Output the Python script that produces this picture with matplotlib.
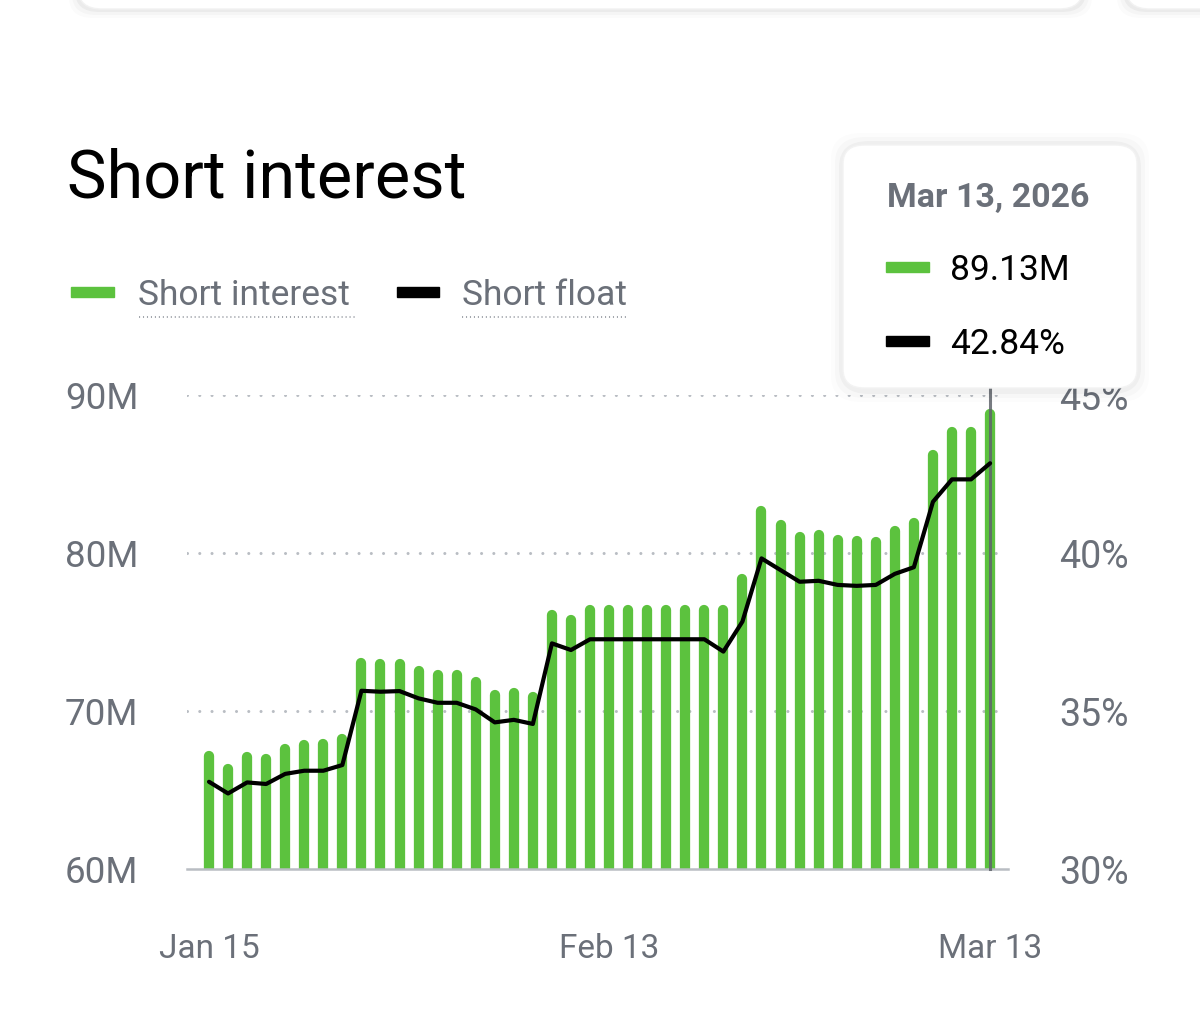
import numpy as np
import matplotlib
matplotlib.use('Agg')
import matplotlib.pyplot as plt
from matplotlib.patches import FancyBboxPatch, Rectangle
from matplotlib.lines import Line2D

plt.rcParams['font.family'] = ['Roboto', 'DejaVu Sans']

# Data (weekdays Jan 15 - Mar 13, 2026)
short_interest = [67.47, 66.65, 67.38, 67.26, 67.91, 68.16, 68.23, 68.52,
                  73.33, 73.27, 73.31, 72.85, 72.57, 72.57, 72.13, 71.33,
                  71.44, 71.22, 76.39, 76.08, 76.69, 76.69, 76.69, 76.69,
                  76.69, 76.69, 76.69, 76.69, 78.65, 82.97, 82.09, 81.33,
                  81.45, 81.14, 81.08, 81.03, 81.73, 82.20, 86.50, 87.95,
                  87.95, 89.13]  # millions
short_float = [32.76, 32.39, 32.74, 32.69, 33.01, 33.11, 33.11, 33.29,
               35.64, 35.61, 35.63, 35.40, 35.26, 35.26, 35.05, 34.64,
               34.72, 34.59, 37.14, 36.93, 37.27, 37.27, 37.27, 37.27,
               37.27, 37.27, 37.27, 36.88, 37.83, 39.83, 39.46, 39.09,
               39.12, 38.99, 38.96, 38.99, 39.34, 39.55, 41.62, 42.33,
               42.33, 42.84]  # percent
xtick_pos = [0, 21, 41]
xtick_labels = ['Jan 15', 'Feb 13', 'Mar 13']
left_ticks = [60, 70, 80, 90]
left_labels = ['60M', '70M', '80M', '90M']
right_ticks = [30, 35, 40, 45]
right_labels = ['30%', '35%', '40%', '45%']
tip_date = 'Mar 13, 2026'
tip_si = '89.13M'
tip_sf = '42.84%'

GREEN = '#5CC23E'
GRAY = '#6B7079'
GRID = '#B9BDC3'

W, H = 1200, 1036
fig = plt.figure(figsize=(W / 100, H / 100), dpi=100)
fig.patch.set_facecolor('white')

def fx(px):
    return px / W

def fy(py):
    return 1 - py / H

ax = fig.add_axes([fx(187), fy(869), fx(1008) - fx(187), fy(395) - fy(869)])
ax.set_xlim(-1.155, 41.94)
ax.set_ylim(60, 90)
for s in ['top', 'right', 'left']:
    ax.spines[s].set_visible(False)
ax.spines['bottom'].set_color(GRID)
ax.spines['bottom'].set_linewidth(1.8)

# dotted gridlines
for v in [70, 80, 90]:
    ax.axhline(v, xmin=0, xmax=0.985, color=GRID, lw=2.2, ls=(0, (0.01, 4)),
               dash_capstyle='round', zorder=1)

# rounded bars
x = np.arange(len(short_interest))
cap = 5 / 15.8
ax.vlines(x, 59, np.array(short_interest) - cap, color=GREEN, lw=7.4,
          capstyle='round', zorder=2)

# hover marker
ax.axvline(41, ymin=0, ymax=1.012, color='#5F646B', lw=2.2, alpha=0.85,
           clip_on=False, zorder=4)

ax.set_yticks(left_ticks)
ax.set_yticklabels(left_labels, fontsize=26.5, color=GRAY, ha='left')
ax.tick_params(axis='y', length=0, pad=88)
ax.set_xticks(xtick_pos)
ax.set_xticklabels(xtick_labels, fontsize=24, color=GRAY)
ax.tick_params(axis='x', length=0, pad=46)

ax2 = ax.twinx()
ax2.set_ylim(30, 45)
for s in ax2.spines.values():
    s.set_visible(False)
ax2.plot(x, short_float, color='black', lw=3, solid_joinstyle='round',
         solid_capstyle='round', zorder=5)
ax2.set_yticks(right_ticks)
ax2.set_yticklabels(right_labels, fontsize=27, color=GRAY)
ax2.tick_params(axis='y', length=0, pad=37)

# title
fig.text(fx(67), fy(197), 'Short interest', fontsize=48, color='black',
         va='baseline', ha='left')

# legend
fig.patches.append(Rectangle((fx(71), fy(297)), fx(43), fy(287) - fy(297),
                             transform=fig.transFigure, color=GREEN))
fig.text(fx(138), fy(305), 'Short interest', fontsize=25.5, color=GRAY,
         va='baseline', ha='left')
fig.lines.append(Line2D([fx(139), fx(356)], [fy(317), fy(317)],
                        transform=fig.transFigure, color='#9A9EA5', lw=1.3,
                        ls=(0, (0.6, 1.6))))
fig.patches.append(Rectangle((fx(397), fy(297)), fx(42), fy(287) - fy(297),
                             transform=fig.transFigure, color='black'))
fig.text(fx(462), fy(305), 'Short float', fontsize=25.5, color=GRAY,
         va='baseline', ha='left')
fig.lines.append(Line2D([fx(462), fx(627)], [fy(317), fy(317)],
                        transform=fig.transFigure, color='#9A9EA5', lw=1.3,
                        ls=(0, (0.6, 1.6))))

# top card edges (cropped)
for x0, x1 in [(78, 1083), (1126, 1260)]:
    for k, a in enumerate([0.015, 0.025, 0.04]):
        grow = 9 - k * 3
        fig.patches.append(FancyBboxPatch(
            (fx(x0 - grow), fy(9 + grow)), fx(x1 - x0 + 2 * grow), fy(-60) - fy(9 + grow),
            boxstyle='round,pad=0,rounding_size=0.02', transform=fig.transFigure,
            facecolor='black', edgecolor='none', alpha=a, zorder=8))
    fig.patches.append(FancyBboxPatch(
        (fx(x0), fy(9)), fx(x1 - x0), fy(-60) - fy(9),
        boxstyle='round,pad=0,rounding_size=0.02', transform=fig.transFigure,
        facecolor='white', edgecolor='#F2F2F2', lw=1, zorder=9))

# tooltip card
cx0, cx1, cy0, cy1 = 843, 1137, 145, 388
for k, a in enumerate([0.012, 0.02, 0.03]):
    grow = 12 - k * 4
    fig.patches.append(FancyBboxPatch(
        (fx(cx0 - grow), fy(cy1 + grow + 2)), fx(cx1 - cx0 + 2 * grow),
        fy(cy0 - grow) - fy(cy1 + grow + 2),
        boxstyle='round,pad=0,rounding_size=0.025', transform=fig.transFigure,
        facecolor='black', edgecolor='none', alpha=a, zorder=8))
fig.patches.append(FancyBboxPatch(
    (fx(cx0), fy(cy1)), fx(cx1 - cx0), fy(cy0) - fy(cy1),
    boxstyle='round,pad=0,rounding_size=0.018', transform=fig.transFigure,
    facecolor='white', edgecolor='#F3F3F3', lw=1, zorder=9))
fig.text(fx(887), fy(207), tip_date, fontsize=24.5, fontweight='bold', color=GRAY,
         va='baseline', ha='left', zorder=10)
fig.patches.append(Rectangle((fx(886), fy(272)), fx(43), fy(262) - fy(272),
                             transform=fig.transFigure, color=GREEN, zorder=10))
fig.text(fx(950), fy(280), tip_si, fontsize=25.5, color='black',
         va='baseline', ha='left', zorder=10)
fig.patches.append(Rectangle((fx(886), fy(346)), fx(43), fy(336) - fy(346),
                             transform=fig.transFigure, color='black', zorder=10))
fig.text(fx(950), fy(354), tip_sf, fontsize=25.5, color='black',
         va='baseline', ha='left', zorder=10)

fig.savefig('out.png', dpi=100, facecolor='white')
